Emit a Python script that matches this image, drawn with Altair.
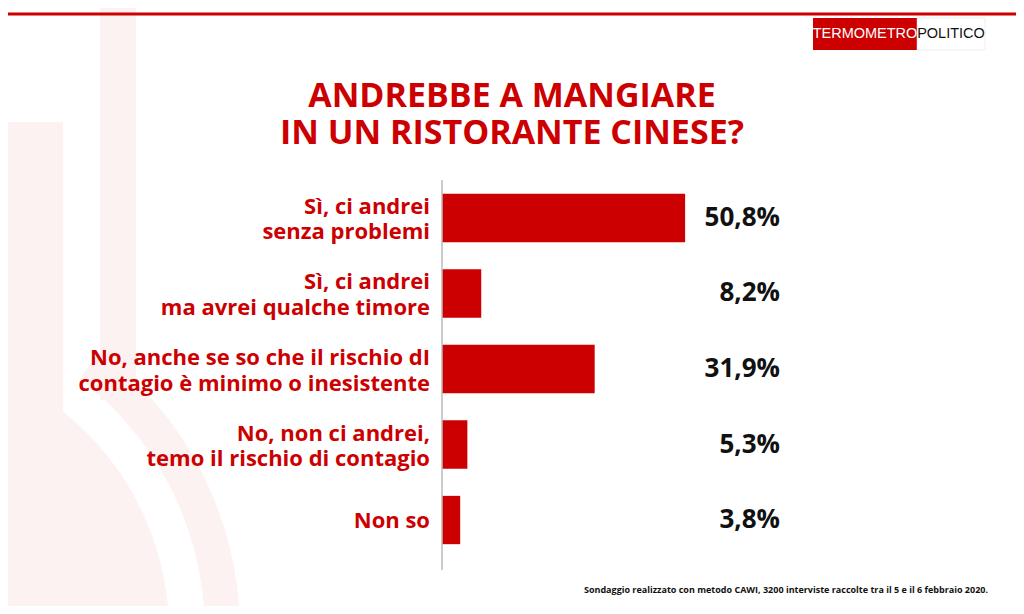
import altair as alt
import pandas as pd

categories = [
    "Sì, ci andrei|senza problemi",
    "Sì, ci andrei|ma avrei qualche timore",
    "No, anche se so che il rischio dI|contagio è minimo o inesistente",
    "No, non ci andrei,|temo il rischio di contagio",
    "Non so",
]
values = [50.8, 8.2, 31.9, 5.3, 3.8]
value_labels = ["50,8%", "8,2%", "31,9%", "5,3%", "3,8%"]
title_lines = ["ANDREBBE A MANGIARE", "IN UN RISTORANTE CINESE?"]
footnote = "Sondaggio realizzato con metodo CAWI, 3200 interviste raccolte tra il 5 e il 6 febbraio 2020."
logo_left = "TERMOMETRO"
logo_right = "POLITICO"

RED = "#CC0000"
PINK = "#FDF2F2"
FONT = "Open Sans"
W, H = 335, 378

parts = [c.split("|") for c in categories]
df = pd.DataFrame({
    "cat": categories,
    "val": values,
    "lab": value_labels,
    "l1": [p[0] for p in parts],
    "l2": [p[1] if len(p) > 1 else "" for p in parts],
    "n": [len(p) for p in parts],
})
one = df.head(1)

y_cat = alt.Y("cat:N", sort=categories, title=None,
              scale=alt.Scale(paddingInner=0.36, paddingOuter=0.183), axis=None)

# faint watermark in the background
wm_rect = alt.Chart(one).mark_rect(color=PINK).encode(
    x=alt.value(-442), x2=alt.value(-379), y=alt.value(-58), y2=alt.value(440))
wm_bar = alt.Chart(one).mark_rect(color=PINK, cornerRadiusTopLeft=6, cornerRadiusTopRight=6).encode(
    x=alt.value(-342), x2=alt.value(-306), y=alt.value(-177), y2=alt.value(220))
wm_ring = alt.Chart(one).mark_arc(color=PINK, radius=353, radius2=318, theta=0.65, theta2=1.9).encode(
    x=alt.value(-555), y=alt.value(452))
wm_disc = alt.Chart(one).mark_arc(color=PINK, radius=282, theta=0, theta2=6.2832).encode(
    x=alt.value(-555), y=alt.value(452))

bars = alt.Chart(df).mark_bar(color=RED).encode(
    x=alt.X("val:Q", scale=alt.Scale(domain=[0, 70]), axis=None),
    y=y_cat,
)

txt_common = dict(align="right", baseline="middle", font=FONT, fontSize=22, fontWeight="bold", color=RED)
lab_top = alt.Chart(df).transform_filter("datum.n == 2").mark_text(dy=-11, **txt_common).encode(
    x=alt.value(-12), y=y_cat, text="l1:N")
lab_bot = alt.Chart(df).transform_filter("datum.n == 2").mark_text(dy=14.5, **txt_common).encode(
    x=alt.value(-12), y=y_cat, text="l2:N")
lab_one = alt.Chart(df).transform_filter("datum.n == 1").mark_text(dy=1, **txt_common).encode(
    x=alt.value(-12), y=y_cat, text="l1:N")

vals = alt.Chart(df).mark_text(
    align="right", baseline="middle", font=FONT, fontSize=26, fontWeight="bold", color="#111111"
).encode(x=alt.value(W + 3), y=y_cat, text="lab:N")

axis_line = alt.Chart(one).mark_rule(color="#bbbbbb", strokeWidth=1.5).encode(
    x=alt.value(0), y=alt.value(0), y2=alt.value(H + 12))

title1 = alt.Chart(one).mark_text(
    text=title_lines[0], font=FONT, fontSize=34, fontWeight="bold", color=RED, align="center", baseline="middle"
).encode(x=alt.value(70), y=alt.value(-83))
title2 = alt.Chart(one).mark_text(
    text=title_lines[1], font=FONT, fontSize=34, fontWeight="bold", color=RED, align="center", baseline="middle"
).encode(x=alt.value(70), y=alt.value(-46))

top_rule = alt.Chart(one).mark_rule(color=RED, strokeWidth=3).encode(
    x=alt.value(-442), x2=alt.value(W + 247), y=alt.value(-166))

logo_box = alt.Chart(one).mark_rect(color=RED).encode(
    x=alt.value(371), x2=alt.value(475), y=alt.value(-162), y2=alt.value(-130))
logo_box2 = alt.Chart(one).mark_rect(color="white", stroke="#dddddd", strokeWidth=0.5).encode(
    x=alt.value(475), x2=alt.value(543), y=alt.value(-162), y2=alt.value(-130))
logo_t1 = alt.Chart(one).mark_text(
    text=logo_left, font="Liberation Sans", fontSize=14.5, color="white", align="center", baseline="middle"
).encode(x=alt.value(423), y=alt.value(-146))
logo_t2 = alt.Chart(one).mark_text(
    text=logo_right, font="Liberation Sans", fontSize=14.5, color="#111111", align="center", baseline="middle"
).encode(x=alt.value(509), y=alt.value(-146))

note = alt.Chart(one).mark_text(
    text=footnote, font=FONT, fontSize=9, fontWeight="bold", color="#111111", align="right", baseline="middle"
).encode(x=alt.value(546), y=alt.value(H + 32))

chart = alt.layer(
    wm_disc, wm_rect, wm_bar, wm_ring,
    top_rule, logo_box, logo_box2, logo_t1, logo_t2,
    title1, title2,
    bars, lab_top, lab_bot, lab_one, vals, axis_line, note,
).properties(
    width=W,
    height=H,
    background="white",
    autosize=alt.AutoSizeParams(type="none"),
    padding={"left": 434, "top": 172, "right": 239, "bottom": 48},
).configure_view(stroke=None)

chart.save("out.html", embed_options={"renderer": "svg", "actions": False})
